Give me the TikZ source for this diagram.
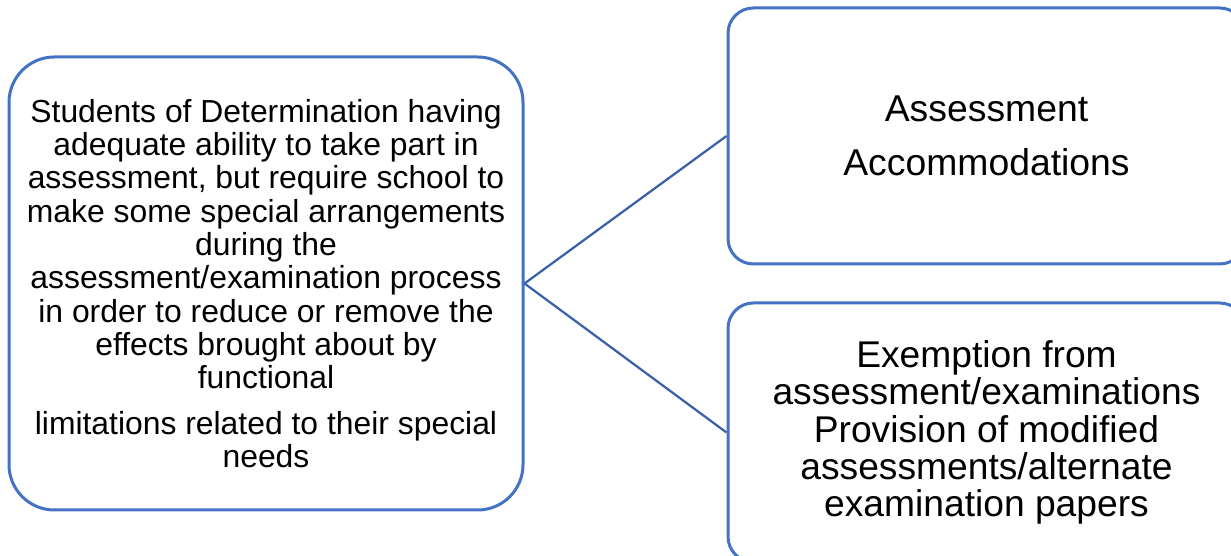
\documentclass[tikz,border=0pt]{standalone}
\usepackage{fontspec}
\setmainfont{Liberation Sans}
\definecolor{boxblue}{HTML}{4472C4}
\definecolor{linkblue}{HTML}{3B62A8}
\begin{document}
\begin{tikzpicture}[x=0.75pt,y=0.75pt,
		box/.style={draw=boxblue,line width=2.25pt,align=center,inner sep=0pt},
		link/.style={draw=linkblue,line width=1.7pt}]
		\useasboundingbox (0,0) rectangle (1231,556);
		\clip (0,0) rectangle (1231,556);
		\node[box,rounded corners=34pt,minimum width=385.5pt,minimum height=339.75pt,
			font=\fontsize{23.9}{25}\selectfont] (stud) at (266,272.5)
			{Students of Determination having\\ adequate ability to take part in\\
			assessment, but require school to\\ make some special arrangements\\
			during the\\ assessment/examination process\\ in order to reduce or remove the\\
			effects brought about by\\ functional\\[9pt]
			limitations related to their special\\ needs};
		\node[box,rounded corners=19pt,minimum width=387.75pt,minimum height=192pt,
			font=\fontsize{28}{40.5}\selectfont] (acc) at (986.5,420)
			{Assessment\\ Accommodations};
		\node[box,rounded corners=19pt,minimum width=387.75pt,minimum height=194.25pt,
			font=\fontsize{27.9}{28}\selectfont] (exem) at (986.5,123.5)
			{Exemption from\\ assessment/examinations\\ Provision of modified\\
			assessments/alternate\\ examination papers};
		%\draw[link] (stud.east) -- (acc.south west);
		\draw[link] (stud.east) -- (acc.west);
		\draw[link] (stud.east) -- (exem.west);
	\end{tikzpicture}
\end{document}
